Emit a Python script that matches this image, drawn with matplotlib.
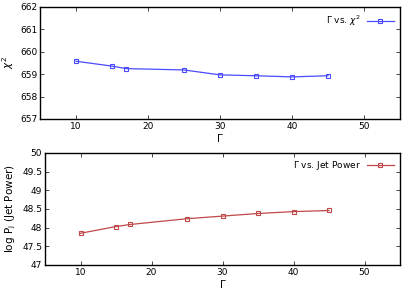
import matplotlib.pyplot as plt

# Gamma values and fit results
gamma = [10, 15, 17, 25, 30, 35, 40, 45]
chi2 = [659.58, 659.36, 659.25, 659.19, 658.97, 658.93, 658.88, 658.93]
jet_power = [47.85, 48.03, 48.085, 48.24, 48.31, 48.38, 48.43, 48.46]

xticks = [10, 20, 30, 40, 50]

plt.rcParams['font.size'] = 6.5
fig = plt.figure(figsize=(4.15, 2.91), dpi=100)

ax1 = fig.add_axes([40/415, 1 - 119/291, 360/415, 112/291])
ax2 = fig.add_axes([45/415, 1 - 265/291, 355/415, 112/291])

ax1.plot(gamma, chi2, color='#4a4aff', lw=0.9, marker='s', ms=3.5,
         mfc='none', mew=0.8, label=r'$\Gamma$ vs. $\chi^2$')
ax1.set_xlim(5, 55)
ax1.set_ylim(657, 662)
ax1.set_yticks([657, 658, 659, 660, 661, 662])
ax1.set_ylabel(r'$\chi^2$', labelpad=3, fontsize=7.5)

ax2.plot(gamma, jet_power, color='#c04848', lw=0.9, marker='s', ms=3.5,
         mfc='none', mew=0.8, label=r'$\Gamma$ vs. Jet Power')
ax2.set_xlim(5, 55)
ax2.set_ylim(47, 50)
ax2.set_yticks([47, 47.5, 48, 48.5, 49, 49.5, 50])
ax2.set_yticklabels(['47', '47.5', '48', '48.5', '49', '49.5', '50'])
ax2.set_ylabel(r'log P$_\mathrm{j}$ (Jet Power)', labelpad=3, fontsize=7.5)

for ax in (ax1, ax2):
    ax.set_xticks(xticks)
    ax.set_xlabel(r'$\Gamma$', labelpad=1, fontsize=7.5)
    ax.tick_params(direction='in', top=True, right=True, length=3,
                   width=0.5, pad=2)
    for s in ax.spines.values():
        s.set_linewidth(1)
    leg = ax.legend(loc='upper right', frameon=False, markerfirst=False,
                    handlelength=3, borderaxespad=0.3, handletextpad=0.6)

fig.savefig('out.png', dpi=100)
